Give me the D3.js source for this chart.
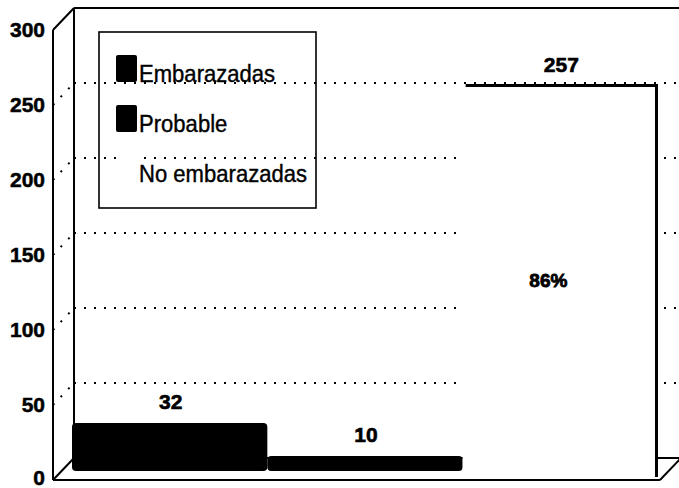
<!DOCTYPE html>
<html>
<head>
<meta charset="utf-8">
<script src="https://cdn.jsdelivr.net/npm/d3@7"></script>
<style>
  html, body { margin: 0; padding: 0; background: #fff; }
  svg { display: block; }
  text { font-family: "Liberation Sans", Arial, Helvetica, sans-serif; fill: #000; }
</style>
</head>
<body>
<svg id="chart" width="679" height="488"></svg>
<script>
// ---- data ----
const categories = ["Embarazadas", "Probable", "No embarazadas"];
const values = [32, 10, 257];
const percentLabels = ["", "", "86%"];
const legendSwatch = ["#000000", "#000000", "#ffffff"];
const barFill = ["#000000", "#000000", "#ffffff"];
const yTicks = [0, 50, 100, 150, 200, 250, 300];

// ---- layout ----
const W = 679, H = 488;
const frontLeft = 53, frontRight = 660;
const depthX = 21, depthY = -22;
const barShiftY = -9;

const svg = d3.select("#chart");

const yFront = d3.scaleLinear().domain([0, 300]).range([480, 30]);
const yBack = v => yFront(v) + depthY;
const yBar = v => yFront(v) + barShiftY;
const x = d3.scaleBand().domain(categories).range([72, 658]).padding(0);

// ---- back wall gridlines (dotted) ----
const grid = svg.append("g");
yTicks.filter(t => t > 0 && t < 300).forEach(t => {
  grid.append("line")
    .attr("x1", frontLeft + depthX).attr("x2", W + 2)
    .attr("y1", yBack(t)).attr("y2", yBack(t))
    .attr("stroke", "#000").attr("stroke-width", 2)
    .attr("stroke-dasharray", "2,8");
  grid.append("line")
    .attr("x1", frontLeft).attr("x2", frontLeft + depthX)
    .attr("y1", yFront(t)).attr("y2", yBack(t))
    .attr("stroke", "#000").attr("stroke-width", 2)
    .attr("stroke-dasharray", "2,9");
});

// ---- frame: left wall, top edge, floor ----
const frame = svg.append("g").attr("stroke", "#000").attr("stroke-width", 2).attr("fill", "none");
frame.append("line").attr("x1", frontLeft).attr("x2", frontLeft).attr("y1", yFront(300)).attr("y2", yFront(0));
frame.append("line").attr("x1", frontLeft + depthX).attr("x2", frontLeft + depthX).attr("y1", yBack(300)).attr("y2", yBack(0));
frame.append("line").attr("x1", frontLeft).attr("x2", frontLeft + depthX).attr("y1", yFront(300)).attr("y2", yBack(300));
frame.append("line").attr("x1", frontLeft + depthX).attr("x2", W + 2).attr("y1", yBack(300)).attr("y2", yBack(300));
frame.append("line").attr("x1", frontLeft).attr("x2", frontLeft + depthX).attr("y1", yFront(0)).attr("y2", yBack(0));
frame.append("line").attr("x1", frontLeft).attr("x2", frontRight).attr("y1", yFront(0)).attr("y2", yFront(0));
frame.append("line").attr("x1", frontRight).attr("x2", frontRight + depthX).attr("y1", yFront(0)).attr("y2", yBack(0));
frame.append("line").attr("x1", frontLeft + depthX).attr("x2", frontRight + depthX).attr("y1", yBack(0)).attr("y2", yBack(0));

// ---- y axis labels ----
const axis = d3.axisLeft(yFront).tickValues(yTicks).tickSize(0).tickPadding(8);
const gAxis = svg.append("g").attr("transform", `translate(${frontLeft},0)`).call(axis);
gAxis.select(".domain").remove();
gAxis.selectAll("text")
  .style("font-family", '"Liberation Sans", Arial, sans-serif')
  .style("font-size", "21px").style("font-weight", "bold")
  .attr("fill", "#000").attr("stroke", "#000").attr("stroke-width", 0.5)
  .attr("dy", d => d === 0 ? "0.2em" : "0.32em");

// ---- legend (transparent box) ----
const leg = svg.append("g");
leg.append("rect").attr("x", 99).attr("y", 32).attr("width", 217).attr("height", 176)
  .attr("fill", "none").attr("stroke", "#000").attr("stroke-width", 1.6);
categories.forEach((c, i) => {
  const base = 82 + i * 50;
  leg.append("rect").attr("x", 116).attr("y", base - 27).attr("width", 21).attr("height", 27)
    .attr("rx", 2).attr("fill", legendSwatch[i]);
  leg.append("text")
    .attr("transform", `translate(139,${base}) scale(0.92,1)`)
    .attr("stroke", "#000").attr("stroke-width", 0.4)
    .style("font-size", "24px").text(c);
});

// ---- bars ----
const bars = svg.append("g");
categories.forEach((c, i) => {
  const x0 = x(c), w = x.bandwidth();
  const top = yBar(values[i]), bottom = yBar(0);
  if (barFill[i] === "#000000") {
    bars.append("rect").attr("x", x0).attr("y", top).attr("width", w).attr("height", bottom - top)
      .attr("rx", 4).attr("fill", barFill[i]);
  } else {
    bars.append("rect").attr("x", x0).attr("y", top).attr("width", w).attr("height", bottom - top)
      .attr("fill", barFill[i]);
    bars.append("path")
      .attr("d", `M${x0 + 3},${top} H${x0 + w - 1.5} V${yFront(0) - 3}`)
      .attr("fill", "none").attr("stroke", "#000").attr("stroke-width", 3);
  }
});

// ---- value labels ----
categories.forEach((c, i) => {
  svg.append("text")
    .attr("x", x(c) + x.bandwidth() / 2 + 1)
    .attr("y", yBar(values[i]) - 14)
    .attr("text-anchor", "middle")
    .attr("stroke", "#000").attr("stroke-width", 0.6)
    .style("font-size", "21px").style("font-weight", "bold")
    .text(values[i]);
  if (percentLabels[i]) {
    svg.append("text")
      .attr("x", x(c) + x.bandwidth() / 2 - 12)
      .attr("y", (yBar(values[i]) + yBar(0)) / 2 + 9)
      .attr("text-anchor", "middle")
      .attr("stroke", "#000").attr("stroke-width", 0.8)
      .style("font-size", "19px").style("font-weight", "bold")
      .text(percentLabels[i]);
  }
});
</script>
</body>
</html>
